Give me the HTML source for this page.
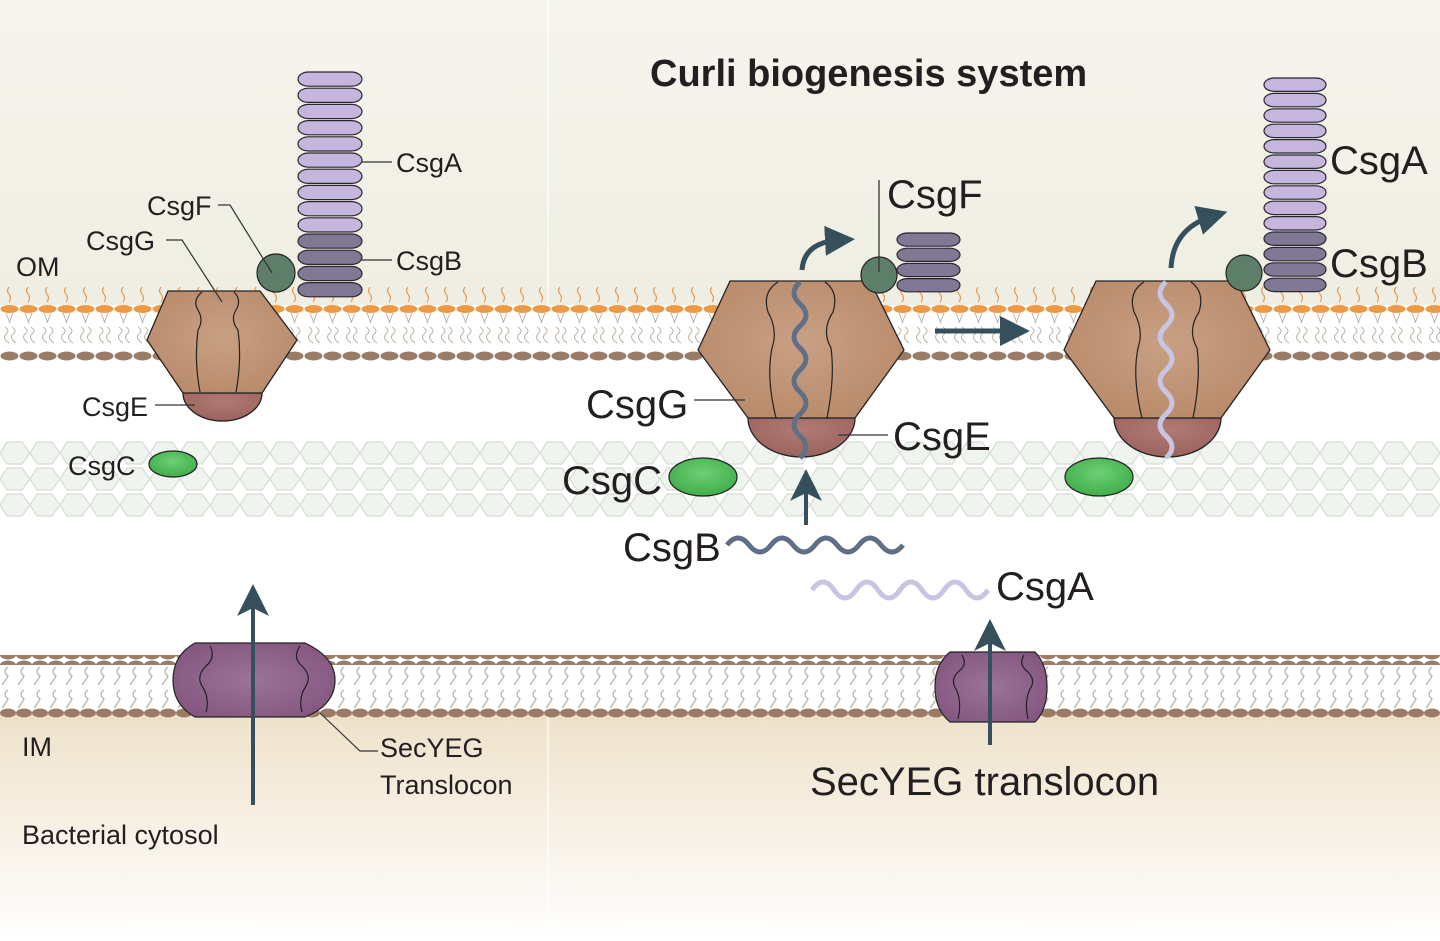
<!DOCTYPE html>
<html><head><meta charset="utf-8"><style>
html,body{margin:0;padding:0;background:#fff}
svg{display:block}
text{font-family:"Liberation Sans","DejaVu Sans",sans-serif;fill:#231f20}
</style></head><body>
<svg id="s" width="1440" height="941" viewBox="0 0 1440 941" xmlns="http://www.w3.org/2000/svg">
<defs>
<linearGradient id="bgTop" x1="0" y1="0" x2="0" y2="1">
<stop offset="0" stop-color="#f6f5ee"/><stop offset="1" stop-color="#efeee2"/></linearGradient>
<linearGradient id="bgBot" x1="0" y1="0" x2="0" y2="1">
<stop offset="0" stop-color="#efe2cb"/><stop offset="1" stop-color="#ffffff"/></linearGradient>
<radialGradient id="gG" cx="0.5" cy="0.45" r="0.6"><stop offset="0" stop-color="#c9a084"/><stop offset="1" stop-color="#b88a6a"/></radialGradient>
<radialGradient id="gE" cx="0.5" cy="0.3" r="0.7"><stop offset="0" stop-color="#b07a74"/><stop offset="1" stop-color="#9c625e"/></radialGradient>
<radialGradient id="gS" cx="0.5" cy="0.5" r="0.6"><stop offset="0" stop-color="#9b7498"/><stop offset="1" stop-color="#84567f"/></radialGradient>
<radialGradient id="gC" cx="0.5" cy="0.4" r="0.6"><stop offset="0" stop-color="#6fcf76"/><stop offset="1" stop-color="#3fae4a"/></radialGradient>
<pattern id="omTop" x="0" y="285" width="19" height="60" patternUnits="userSpaceOnUse">
<path d="M9 2 q-3 4 0 7 q3 4 0 8" fill="none" stroke="#e59a55" stroke-width="1.2"/>
<ellipse cx="9.5" cy="24" rx="9" ry="4" fill="#ee9a45"/>
<path d="M6 28 l4 10 M13 28 l-4 10" stroke="#bdb2a8" stroke-width="1" fill="none"/>
<path d="M5 42 q6 4 0 8 q-2 4 4 8 M12 42 q6 4 0 8 q-2 4 4 8" stroke="#bdb2a8" stroke-width="1" fill="none"/>
</pattern>
<pattern id="heads" x="0" y="351" width="19" height="10" patternUnits="userSpaceOnUse">
<ellipse cx="9.5" cy="5" rx="9" ry="4.5" fill="#9a7b66"/></pattern>
<pattern id="imTails" x="0" y="665" width="16" height="46" patternUnits="userSpaceOnUse">
<path d="M8 2 q-6 4 0 9 q-2 4 -6 9 M8 25 q-6 4 0 9 q-2 4 -6 9" stroke="#b5aaa0" stroke-width="1.2" fill="none"/></pattern>
<pattern id="imHeads" x="0" y="0" width="16" height="10" patternUnits="userSpaceOnUse">
<ellipse cx="8" cy="5" rx="8" ry="4.5" fill="#9a7b66"/></pattern>
<pattern id="imHeads2" x="0" y="708" width="16" height="10" patternUnits="userSpaceOnUse">
<ellipse cx="8" cy="5" rx="8" ry="4.5" fill="#9a7b66"/></pattern>
<pattern id="pg" x="0" y="440" width="30" height="26" patternUnits="userSpaceOnUse">
<path d="M0 13 l7 -11 h15 l8 11 l-8 11 h-15 z" fill="#eef3ec" stroke="#d2d8d0" stroke-width="1.2"/></pattern>
<marker id="ah" markerWidth="8" markerHeight="8" refX="4" refY="4" orient="auto" markerUnits="strokeWidth">
<path d="M0 0 L8 4 L0 8 L2 4 z" fill="#35505c"/></marker>
<marker id="ah2" markerWidth="6" markerHeight="6" refX="3" refY="3" orient="auto" markerUnits="strokeWidth">
<path d="M0 0 L6 3 L0 6 z" fill="#35505c"/></marker>
</defs>

<rect x="0" y="0" width="1440" height="305" fill="url(#bgTop)"/>
<rect x="0" y="305" width="1440" height="415" fill="#fff"/>
<rect x="0" y="715" width="1440" height="226" fill="url(#bgBot)"/>
<line x1="548" y1="0" x2="548" y2="941" stroke="#ffffff" stroke-width="2" opacity="0.6"/>

<rect x="0" y="285" width="1440" height="60" fill="url(#omTop)"/>
<rect x="0" y="351" width="1440" height="10" fill="url(#heads)"/>
<rect x="0" y="440" width="1440" height="78" fill="url(#pg)" opacity="0.9"/>
<rect x="0" y="655" width="1440" height="10" fill="url(#imHeads)"/>
<rect x="0" y="665" width="1440" height="46" fill="url(#imTails)"/>
<rect x="0" y="708" width="1440" height="10" fill="url(#imHeads2)"/>

<g id="dyn"></g>

<path d="M183 393 h79 a39.5 28 0 0 1 -79 0 z" fill="url(#gE)" stroke="#222" stroke-width="1.3"/>
<path d="M168 291 h92 l37 49 l-35 53 h-79 l-36 -53 z" fill="url(#gG)" stroke="#222" stroke-width="1.3" stroke-linejoin="round"/>
<path d="M202 292 q-10 8 -4 18 q6 10 0 20 q-4 30 2 62 M234 292 q8 8 2 18 q-6 10 2 20 q4 30 -2 62" fill="none" stroke="#222" stroke-width="1.2"/>
<circle cx="276" cy="273" r="19" fill="#5d7f69" stroke="#222" stroke-width="1.2"/>
<ellipse cx="173" cy="464" rx="24" ry="13" fill="url(#gC)" stroke="#222" stroke-width="1.2"/>
<path d="M195 643 h110 q30 14 30 37 q0 25 -30 37 h-110 q-22 -12 -22 -37 q0 -25 22 -37 z" fill="url(#gS)" stroke="#222" stroke-width="1.2"/>
<path d="M210 646 q6 12 -4 20 q-10 10 -4 20 q8 12 4 26 M300 646 q-8 12 2 20 q10 10 4 20 q-8 12 -4 26" fill="none" stroke="#222" stroke-width="1.2"/>
<line x1="253" y1="805" x2="253" y2="600" stroke="#35505c" stroke-width="4" marker-end="url(#ah)"/>

<g style="font-size:27px" fill="#333">
<text x="16" y="276">OM</text>
<text x="147" y="215">CsgF</text>
<text x="86" y="250">CsgG</text>
<text x="82" y="416">CsgE</text>
<text x="68" y="475">CsgC</text>
<text x="396" y="172">CsgA</text>
<text x="396" y="270">CsgB</text>
<text x="22" y="756">IM</text>
<text x="380" y="757">SecYEG</text>
<text x="380" y="794">Translocon</text>
<text x="22" y="844">Bacterial cytosol</text>
</g>
<g stroke="#333" stroke-width="1.2" fill="none">
<path d="M218 205 h12 l42 68"/>
<path d="M166 240 h16 l40 62"/>
<path d="M155 405 h40"/>
<path d="M362 162 h30 M362 260 h30"/>
<path d="M320 713 l40 38 h18"/>
</g>

<text x="650" y="86" style="font-size:38px;font-weight:bold">Curli biogenesis system</text>

<g id="p1">
<path d="M748 418 h107 a53.5 39 0 0 1 -107 0 z" fill="url(#gE)" stroke="#222" stroke-width="1.3"/>
<path d="M730 281 h140 l34 69 l-49 68 h-107 l-50 -68 z" fill="url(#gG)" stroke="#222" stroke-width="1.3" stroke-linejoin="round"/>
<path d="M778 282 q-16 10 -10 30 q10 18 4 36 q-6 30 4 70 M825 282 q14 10 8 30 q-12 18 -2 36 q4 30 -4 70" fill="none" stroke="#222" stroke-width="1.2"/>
</g>
<path d="M800 282 q-12 11 0 22 q12 11 0 22 q-12 11 0 22 q12 11 0 22 q-12 11 0 22 q12 11 0 22 q-12 11 0 22 q12 11 0 22" fill="none" stroke="#5e6f86" stroke-width="5"/>
<path d="M802 270 q2 -28 38 -30" fill="none" stroke="#35505c" stroke-width="5" marker-end="url(#ah2)"/>
<circle cx="879" cy="275" r="18" fill="#5d7f69" stroke="#222" stroke-width="1.2"/>
<line x1="879" y1="180" x2="879" y2="272" stroke="#333" stroke-width="1.3"/>

<use href="#p1" x="366" y="0"/>
<path d="M1166 282 q-12 11 0 22 q12 11 0 22 q-12 11 0 22 q12 11 0 22 q-12 11 0 22 q12 11 0 22 q-12 11 0 22 q12 11 0 22" fill="none" stroke="#c7c5e2" stroke-width="5"/>
<path d="M1171 268 q2 -40 42 -52" fill="none" stroke="#35505c" stroke-width="5" marker-end="url(#ah2)"/>
<circle cx="1244" cy="273" r="18" fill="#5d7f69" stroke="#222" stroke-width="1.2"/>

<line x1="935" y1="331" x2="1015" y2="331" stroke="#35505c" stroke-width="5" marker-end="url(#ah2)"/>

<ellipse cx="703" cy="477" rx="34" ry="19" fill="url(#gC)" stroke="#222" stroke-width="1.2"/>
<ellipse cx="1099" cy="477" rx="34" ry="19" fill="url(#gC)" stroke="#222" stroke-width="1.2"/>

<line x1="806" y1="525" x2="806" y2="485" stroke="#35505c" stroke-width="4" marker-end="url(#ah)"/>
<path d="M727 545 q11 -14 22 0 q11 14 22 0 q11 -14 22 0 q11 14 22 0 q11 -14 22 0 q11 14 22 0 q11 -14 22 0 q11 14 22 0" fill="none" stroke="#5e6f86" stroke-width="5"/>
<path d="M812 590 q11 -16 22 0 q11 16 22 0 q11 -16 22 0 q11 16 22 0 q11 -16 22 0 q11 16 22 0 q11 -16 22 0 q11 16 22 0" fill="none" stroke="#c7c5e2" stroke-width="5"/>

<path d="M950 652 h85 q12 12 12 35 q0 23 -12 35 h-85 q-15 -12 -15 -35 q0 -23 15 -35 z" fill="url(#gS)" stroke="#222" stroke-width="1.2"/>
<path d="M962 655 q6 10 -4 17 q-8 8 -2 17 q6 12 2 30 M1024 655 q-6 10 4 17 q8 8 2 17 q-6 12 -2 30" fill="none" stroke="#222" stroke-width="1.2"/>
<line x1="990" y1="745" x2="990" y2="635" stroke="#35505c" stroke-width="4" marker-end="url(#ah)"/>

<g style="font-size:40px">
<text x="887" y="208">CsgF</text>
<text x="586" y="418">CsgG</text>
<text x="893" y="450">CsgE</text>
<text x="562" y="494">CsgC</text>
<text x="623" y="561">CsgB</text>
<text x="996" y="600">CsgA</text>
<text x="1330" y="174">CsgA</text>
<text x="1330" y="277">CsgB</text>
<text x="810" y="795">SecYEG translocon</text>
</g>
<g stroke="#333" stroke-width="1.3">
<line x1="694" y1="400" x2="745" y2="400"/>
<line x1="838" y1="435" x2="888" y2="435"/>
</g>
</svg>
<script>
var g=document.getElementById('dyn'),ns='http://www.w3.org/2000/svg';
function stack(x,w,y0,pitch,nA,nB){
 for(var i=0;i<nA+nB;i++){
  var r=document.createElementNS(ns,'rect');
  r.setAttribute('x',x);r.setAttribute('y',y0+i*pitch);
  r.setAttribute('width',w);r.setAttribute('height',pitch-2);
  r.setAttribute('rx',w/6);r.setAttribute('ry',(pitch-2)/2);
  r.setAttribute('fill',i<nA?'#c6b5dc':'#817896');
  r.setAttribute('stroke','#2a2630');r.setAttribute('stroke-width','1.2');
  g.appendChild(r);
 }
}
stack(298,64,72,16.2,10,4);
stack(1264,62,78,15.4,10,4);
stack(897,63,233,15.2,0,4);
</script>
</body></html>
